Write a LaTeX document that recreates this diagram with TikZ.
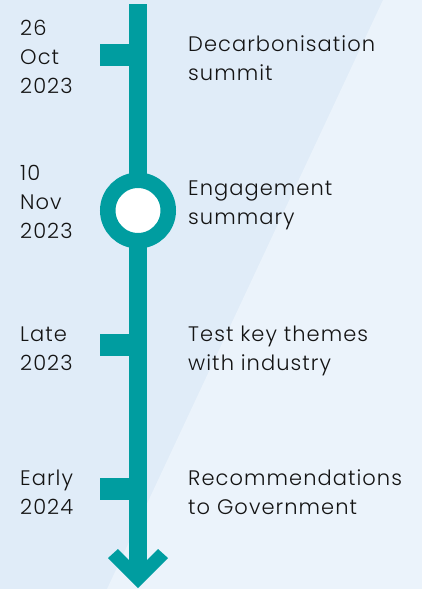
\documentclass[tikz,border=0pt]{standalone}
\usepackage{fontspec}
\setmainfont{Poppins}[UprightFont=* Light, LetterSpace=5]
\usetikzlibrary{positioning}
\definecolor{mteal}{RGB}{0,157,160}
\definecolor{mbg}{RGB}{224,236,248}
\definecolor{mbglight}{RGB}{235,243,251}
\definecolor{mink}{RGB}{20,20,20}
\tikzset{entry/.style = {anchor=base west, inner sep=0, text=mink,
                         font=\fontsize{21}{29}\selectfont}}
\tikzset{ring/.style = {circle, fill=white, draw=mteal, line width=15.5pt,
                        minimum size=60.5pt, inner sep=0}}
\newcommand{\stacked}[1]{\begin{tabular}[t]{@{}l@{}}#1\end{tabular}}

\begin{document}
\begin{tikzpicture}[x=1pt, y=-1pt]
    \fill [mbg] (0, 0) rectangle (422, 589);
    \fill [mbglight] (383, 0) -- (422, 0) -- (422, 589) -- (107, 589) -- cycle;
    \useasboundingbox (0, 0) rectangle (422, 589);

    % timeline and arrow head
    \fill [mteal] (129, 4) rectangle (147, 570);
    \fill [mteal] (118, 549) -- (138, 569) -- (158, 549) -- (168, 558)
                  -- (138, 588) -- (108, 558) -- cycle;

    \foreach \y in {44, 334, 478} {
      \fill [mteal] (100, \y) rectangle (130, \y + 22);
    }
    \node [ring] (milestone) at (138, 210.5) {};

    \node [entry] (date1) at (20, 35) {\stacked{26\\Oct\\2023}};
    \node [entry] (date2) at (20, 180) {\stacked{10\\Nov\\2023}};
    \node [entry] (date3) at (20, 341) {\stacked{Late\\2023}};
    \node [entry] (date4) at (20, 485) {\stacked{Early\\2024}};

    \node [entry] (event1) at (188, 51) {\stacked{Decarbonisation\\summit}};
    \node [entry] (event2) at (188, 195) {\stacked{Engagement\\summary}};
    \node [entry] (event3) at (188, 341) {\stacked{Test key themes\\with industry}};
    \node [entry] (event4) at (188, 485) {\stacked{Recommendations\\to Government}};
  \end{tikzpicture}
\end{document}
